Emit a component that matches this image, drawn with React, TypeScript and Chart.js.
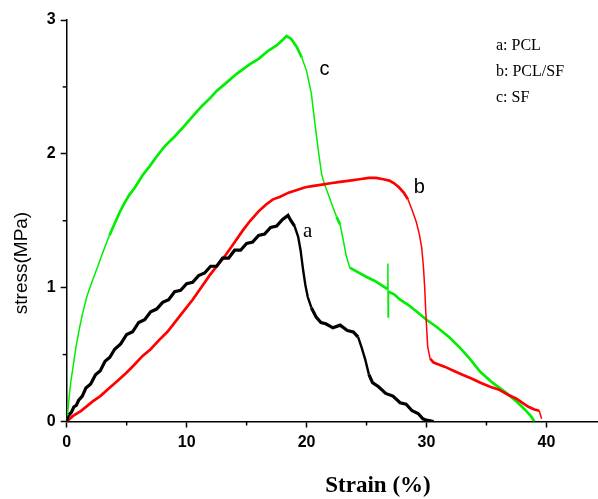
import React, { useEffect, useRef } from "react";
import { Chart, registerables } from "chart.js";

Chart.register(...registerables);

// ---- data ----
const aStrain = [0,0.2,0.4,0.6,0.8,1.0,1.3,1.6,2.0,2.4,2.8,3.2,3.6,4.0,4.5,5.0,5.5,6.0,6.5,7.0,7.5,8.0,8.5,9.0,9.5,10.0,10.5,11.0,11.5,12.0,12.5,13.0,13.5,14.0,14.5,15.0,15.5,16.0,16.5,17.0,17.5,18.0,18.45,18.7,19.0,19.3,19.5,19.7,19.9,20.1,20.4,20.8,21.2,21.6,22.2,22.8,23.4,23.9,24.3,24.6,24.9,25.2,25.5,26.0,26.6,27.2,27.8,28.3,28.8,29.3,29.7,30.0,30.6];
const aStress = [0,0.05,0.07,0.11,0.12,0.16,0.19,0.25,0.28,0.35,0.38,0.45,0.48,0.54,0.58,0.65,0.67,0.74,0.76,0.82,0.84,0.89,0.91,0.97,0.98,1.03,1.04,1.09,1.11,1.16,1.16,1.22,1.22,1.28,1.28,1.33,1.34,1.39,1.40,1.45,1.46,1.51,1.54,1.50,1.46,1.38,1.28,1.14,1.02,0.93,0.85,0.78,0.74,0.73,0.70,0.72,0.68,0.67,0.63,0.55,0.46,0.35,0.29,0.26,0.21,0.19,0.14,0.13,0.08,0.06,0.02,0.01,0];

const bStrain = [0,0.5,1.2,2.17,2.8,3.56,4.2,4.94,5.6,6.33,7.0,7.72,8.4,9.1,9.8,10.5,11.2,11.9,12.6,13.3,14.0,14.7,15.3,16.0,16.6,17.2,17.8,18.5,19.2,19.9,20.6,21.3,22.0,22.8,23.6,24.4,25.2,25.8,26.4,26.9,27.3,27.7,28.1,28.45,28.8,29.15,29.4,29.6,29.75,29.85,29.95,30.1,30.3,30.6,30.9,31.5,32.25,33.0,33.8,34.5,35.3,36.0,36.8,37.5,38.0,38.5,39.0,39.4,39.6];
const bStress = [0,0.04,0.08,0.15,0.19,0.25,0.30,0.36,0.42,0.49,0.54,0.61,0.67,0.75,0.83,0.91,1.0,1.09,1.17,1.25,1.34,1.43,1.5,1.57,1.62,1.66,1.68,1.71,1.73,1.75,1.76,1.77,1.78,1.79,1.80,1.81,1.82,1.82,1.81,1.80,1.78,1.75,1.71,1.66,1.58,1.49,1.40,1.30,1.15,1.0,0.8,0.56,0.47,0.44,0.43,0.41,0.38,0.35,0.32,0.29,0.26,0.24,0.2,0.17,0.14,0.11,0.09,0.08,0.02];

const cStrain = [0,0.08,0.2,0.36,0.55,0.78,1.05,1.33,1.7,2.17,2.6,3.0,3.56,4.0,4.4,4.8,5.2,5.7,6.33,6.94,7.5,8.2,9.0,9.72,10.5,11.3,12.0,12.5,13.3,14.2,15.28,16.0,16.8,17.5,18.0,18.33,18.7,19.17,19.6,20.0,20.4,20.6,20.83,21.05,21.25,21.5,21.8,22.2,22.5,22.8,23.05,23.3,23.6,24.2,25.0,25.7,26.4,26.75,26.78,26.8,26.83,27.3,27.8,28.5,29.2,30.0,30.8,31.9,32.8,33.6,34.5,35.5,36.7,37.5,38.2,38.7,39.0];
const cStress = [0,0.06,0.18,0.31,0.42,0.56,0.69,0.81,0.94,1.06,1.16,1.26,1.39,1.48,1.56,1.63,1.69,1.75,1.84,1.91,1.98,2.06,2.13,2.2,2.28,2.36,2.42,2.47,2.53,2.6,2.67,2.71,2.77,2.81,2.85,2.88,2.86,2.8,2.72,2.62,2.45,2.3,2.13,1.98,1.85,1.77,1.7,1.6,1.53,1.47,1.36,1.24,1.15,1.12,1.08,1.05,1.01,0.99,1.18,0.78,0.97,0.95,0.91,0.87,0.82,0.76,0.71,0.63,0.55,0.47,0.37,0.29,0.21,0.15,0.09,0.04,0];

const seriesNames = ["a", "b", "c"];
const legendLines = ["a: PCL", "b: PCL/SF", "c: SF"];
const curveLabelStrain = [20.1, 29.4, 21.5];
const curveLabelStress = [1.42, 1.75, 2.63];
const xMinorTicks = [5, 15, 25, 35];
const yMinorTicks = [0.5, 1.5, 2.5];
const xTitle = "Strain (%)";
const yTitle = "stress(MPa)";

const toPoints = (xs: number[], ys: number[]) => xs.map((x, i) => ({ x, y: ys[i] }));

const SANS = "'Liberation Sans', Arial, sans-serif";
const SERIF = "'Liberation Serif', 'Times New Roman', serif";

const decorPlugin = {
  id: "decor",
  afterDraw(chart: any) {
    const ctx = chart.ctx;
    const xs = chart.scales.x;
    const ys = chart.scales.y;
    const area = chart.chartArea;
    ctx.save();
    // minor ticks
    ctx.strokeStyle = "#000";
    ctx.lineWidth = 1.5;
    xMinorTicks.forEach((v) => {
      const px = xs.getPixelForValue(v);
      ctx.beginPath();
      ctx.moveTo(px, area.bottom);
      ctx.lineTo(px, area.bottom + 4);
      ctx.stroke();
    });
    yMinorTicks.forEach((v) => {
      const py = ys.getPixelForValue(v);
      ctx.beginPath();
      ctx.moveTo(area.left, py);
      ctx.lineTo(area.left - 4, py);
      ctx.stroke();
    });
    // curve labels
    ctx.fillStyle = "#000";
    ctx.textAlign = "center";
    ctx.textBaseline = "middle";
    seriesNames.forEach((n, i) => {
      ctx.font = i === 0 ? `21px ${SERIF}` : `20px ${SANS}`;
      ctx.fillText(n, xs.getPixelForValue(curveLabelStrain[i]), ys.getPixelForValue(curveLabelStress[i]));
    });
    // legend text
    ctx.textAlign = "left";
    ctx.font = `16px ${SERIF}`;
    legendLines.forEach((t, i) => {
      ctx.fillText(t, 496, 46 + i * 26);
    });
    // x title
    ctx.textAlign = "center";
    ctx.font = `bold 23px ${SERIF}`;
    ctx.fillText(xTitle, 378, 486);
    // y title
    ctx.save();
    ctx.translate(22, 263);
    ctx.rotate(-Math.PI / 2);
    ctx.font = `19px ${SANS}`;
    ctx.fillText(yTitle, 0, 0);
    ctx.restore();
    ctx.restore();
  },
};

export default function App() {
  const ref = useRef<HTMLCanvasElement | null>(null);
  useEffect(() => {
    if (!ref.current) return;
    const colors = ["#000000", "#ff0000", "#00ee00"];
    const widths = [3.2, 2.7, 2.7];
    const steepWidths = [2.4, 1.5, 1.5];
    const sets = [toPoints(aStrain, aStress), toPoints(bStrain, bStress), toPoints(cStrain, cStress)];
    const chart = new Chart(ref.current, {
      type: "line",
      data: {
        datasets: sets.map((d, i) => ({
          label: seriesNames[i],
          data: d,
          borderColor: colors[i],
          backgroundColor: colors[i],
          borderWidth: widths[i],
          pointRadius: 0,
          tension: 0,
          fill: false,
          segment: {
            borderWidth: (c: any) => {
              const dx = Math.abs(c.p1.x - c.p0.x);
              const dy = Math.abs(c.p1.y - c.p0.y);
              return dy > 2.5 * dx ? steepWidths[i] : widths[i];
            },
          },
        })),
      },
      options: {
        animation: false,
        responsive: false,
        maintainAspectRatio: false,
        layout: { padding: { top: 20, right: 0, left: 0, bottom: 0 } },
        plugins: { legend: { display: false }, tooltip: { enabled: false } },
        scales: {
          x: {
            type: "linear",
            min: 0,
            max: 44.3,
            afterFit: (s: any) => { s.height = 77.5; },
            border: { display: true, color: "#000", width: 1.5 },
            grid: { drawOnChartArea: false, drawTicks: true, tickLength: 6, tickColor: "#000", tickWidth: 1.5 },
            ticks: {
              stepSize: 10,
              includeBounds: false,
              color: "#000",
              padding: 5,
              maxRotation: 0,
              font: { family: SANS, size: 16, weight: "bold" },
            },
          },
          y: {
            type: "linear",
            min: 0,
            max: 3,
            afterFit: (s: any) => { s.width = 66.7; },
            border: { display: true, color: "#000", width: 1.5 },
            grid: { drawOnChartArea: false, drawTicks: true, tickLength: 6, tickColor: "#000", tickWidth: 1.5 },
            ticks: {
              stepSize: 1,
              color: "#000",
              padding: 5,
              font: { family: SANS, size: 16, weight: "bold" },
            },
          },
        },
      },
      plugins: [decorPlugin],
    });
    return () => chart.destroy();
  }, []);
  return (
    <div style={{ position: "fixed", left: 0, top: 0, width: 598, height: 499, background: "#fff" }}>
      <canvas ref={ref} width={598} height={499} style={{ width: 598, height: 499 }} />
    </div>
  );
}
